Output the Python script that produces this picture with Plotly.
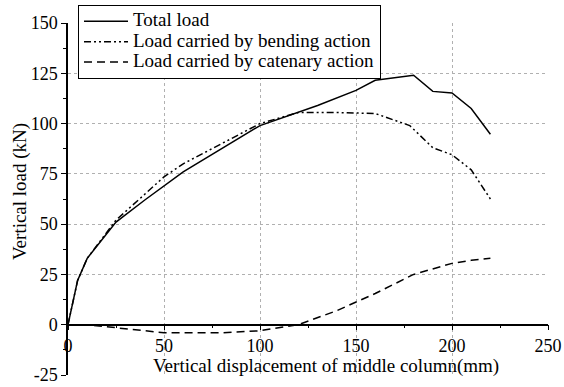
import plotly.graph_objects as go

total_x = [0, 5, 10, 25, 40, 60, 100, 120, 130, 150, 160, 180, 190, 200, 210, 220]
total_y = [0, 22, 33, 51, 62, 76, 99, 105.5, 109, 116.5, 121.5, 124, 116, 115.2, 107.5, 94.7]

bend_x = [0, 5, 10, 25, 50, 60, 100, 120, 140, 160, 178, 190, 200, 210, 220]
bend_y = [0, 22, 33, 52, 73.5, 80, 100, 105.5, 105.5, 105, 99, 88, 84.5, 77, 62.5]

cat_x = [0, 10, 25, 50, 60, 80, 100, 120, 140, 160, 180, 200, 210, 220]
cat_y = [0, 0, -1.5, -4, -4, -4, -3, 0, 7, 15.5, 25, 30.5, 32, 33]

names = ["Total load", "Load carried by bending action", "Load carried by catenary action"]

x_ticks = [0, 50, 100, 150, 200, 250]
y_ticks = [-25, 0, 25, 50, 75, 100, 125, 150]
x_grid = [50, 100, 150, 200]
y_grid = [25, 50, 75, 100, 125]

x_title = "Vertical displacement of middle column(mm)"
y_title = "Vertical load (kN)"

FONT = "'Liberation Serif', serif"
W, H = 564, 387


def leg(name):
    return '<span style="font-size:19px">' + name + "</span>"


fig = go.Figure()
fig.add_trace(go.Scatter(x=total_x, y=total_y, mode="lines", name=leg(names[0]),
                         line=dict(color="black", width=1.5)))
fig.add_trace(go.Scatter(x=bend_x, y=bend_y, mode="lines", name=leg(names[1]),
                         line=dict(color="black", width=1.5, dash="7px,3px,2px,3px,2px,3px")))
fig.add_trace(go.Scatter(x=cat_x, y=cat_y, mode="lines", name=leg(names[2]), xaxis="x2", yaxis="y2",
                         line=dict(color="black", width=1.5, dash="8px,5px")))

grid_style = dict(showgrid=True, gridcolor="#b0b0b0", griddash="dot", gridwidth=1,
                  showline=False, ticks="", showticklabels=False, zeroline=False,
                  automargin=False)

fig.update_layout(
    width=W, height=H,
    margin=dict(l=68, r=16, t=23, b=12, autoexpand=False),
    paper_bgcolor="white", plot_bgcolor="white",
    font=dict(family=FONT, size=18, color="black"),
    showlegend=True,
    legend=dict(xref="container", yref="container", x=78/W, y=1 - 5/H,
                xanchor="left", yanchor="top",
                bordercolor="black", borderwidth=1, bgcolor="white",
                font=dict(family=FONT, size=13.4), tracegroupgap=0, itemwidth=44),
    xaxis=dict(range=[0, 250], tickvals=x_ticks, ticktext=[str(v) for v in x_ticks],
               anchor="free", position=25/175, automargin=False,
               showline=True, linecolor="black", linewidth=1.5,
               ticks="outside", ticklen=5, tickwidth=1.2, tickcolor="black",
               minor=dict(dtick=25, ticks="outside", ticklen=3, tickcolor="black", showgrid=False),
               showgrid=False, zeroline=False, tickfont=dict(family=FONT, size=18)),
    yaxis=dict(range=[-25, 150], tickvals=y_ticks, ticktext=[str(v) for v in y_ticks],
               automargin=False,
               showline=True, linecolor="black", linewidth=1.5,
               ticks="outside", ticklen=5, tickwidth=1.2, tickcolor="black",
               minor=dict(dtick=12.5, tick0=0, ticks="outside", ticklen=3, tickcolor="black", showgrid=False),
               showgrid=False, zeroline=False, tickfont=dict(family=FONT, size=18)),
    xaxis2=dict(overlaying="x", matches="x", anchor="y2", tickvals=x_grid, layer="below traces", **grid_style),
    yaxis2=dict(overlaying="y", matches="y", anchor="x2", tickvals=y_grid, layer="below traces", **grid_style),
    annotations=[
        dict(text=x_title, xref="paper", yref="paper", x=(326 - 68) / 480, y=(H - 12 - 366) / (H - 35),
             xanchor="center", yanchor="middle", showarrow=False, font=dict(family=FONT, size=19)),
        dict(text=y_title, xref="paper", yref="paper", x=(20 - 68) / 480, y=(H - 12 - 192) / (H - 35),
             xanchor="center", yanchor="middle", textangle=-90, showarrow=False,
             font=dict(family=FONT, size=19)),
    ],
)

fig.write_html("out.html")
